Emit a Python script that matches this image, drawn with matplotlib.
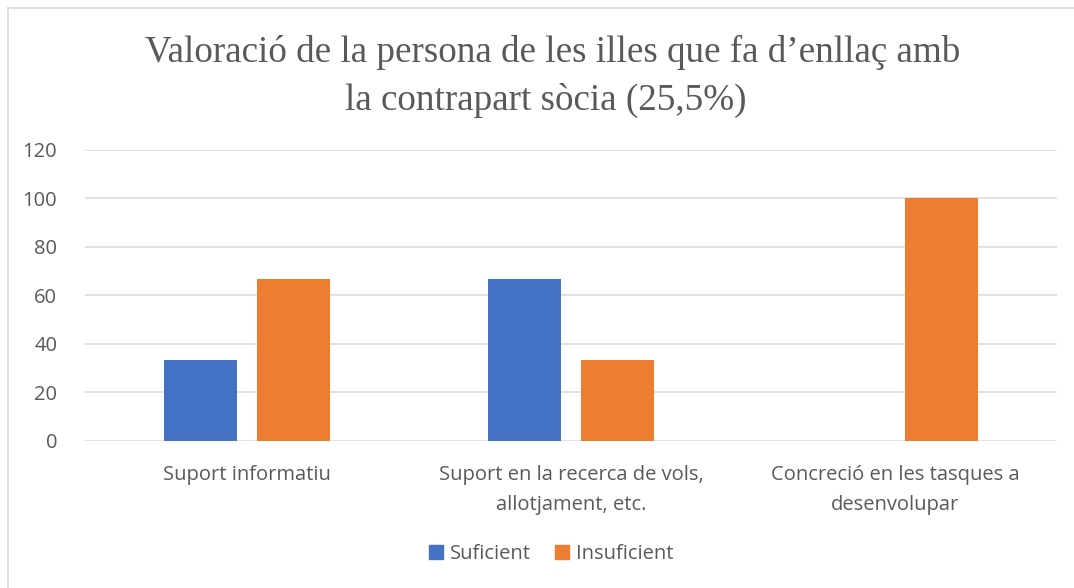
import matplotlib.pyplot as plt
import numpy as np
from matplotlib.lines import Line2D

categories = ['Suport informatiu',
              'Suport en la recerca de vols,\nallotjament, etc.',
              'Concreció en les tasques a\ndesenvolupar']
suficient = [33.33, 66.67, 0]
insuficient = [66.67, 33.33, 100]
yticks = [0, 20, 40, 60, 80, 100, 120]

blue = '#4472C4'
orange = '#ED7D31'
grey = '#595959'

fig = plt.figure(figsize=(10.74, 5.88), dpi=100)
ax = fig.add_axes([0.0791, 0.25, 0.905, 0.495])

x = np.arange(len(categories))
w = 0.225
ax.bar(x - 0.143, suficient, w, color=blue, label='Suficient', zorder=3)
ax.bar(x + 0.143, insuficient, w, color=orange, label='Insuficient', zorder=3)

ax.set_xlim(-0.5, 2.5)
ax.set_ylim(0, 120)
ax.set_yticks(yticks)
ax.yaxis.grid(True, color='#d9d9d9', linewidth=1.1)
ax.set_axisbelow(True)
for s in ax.spines.values():
    s.set_visible(False)
ax.tick_params(length=0, labelsize=14.5, colors=grey, pad=20)
ax.tick_params(axis='x', pad=17)
ax.set_xticks(x)
ax.set_xticklabels(categories, linespacing=1.7)
for lab in ax.get_xticklabels() + ax.get_yticklabels():
    lab.set_family('Open Sans')

fig.text(0.515, 0.91, 'Valoració de la persona de les illes que fa d\u2019enllaç amb',
         ha='center', va='center', fontsize=26.7, family='Liberation Serif', color=grey)
fig.text(0.508, 0.829, 'la contrapart sòcia (25,5%)',
         ha='center', va='center', fontsize=26.7, family='Liberation Serif', color=grey)

handles = [Line2D([], [], marker='s', linestyle='', color=blue, markersize=10),
           Line2D([], [], marker='s', linestyle='', color=orange, markersize=10)]
leg = fig.legend(handles, ['Suficient', 'Insuficient'], loc='center', bbox_to_anchor=(0.509, 0.058),
                 ncol=2, frameon=False, handletextpad=-0.1, columnspacing=0.75, handlelength=1.6,
                 prop={'family': 'Open Sans', 'size': 14.5})
for t in leg.get_texts():
    t.set_color(grey)

# chart border (only top and left visible in the crop)
fig.add_artist(Line2D([0.0075, 0.0075], [0, 0.987], transform=fig.transFigure, color='#d9d9d9', linewidth=1.2))
fig.add_artist(Line2D([0.0075, 1], [0.987, 0.987], transform=fig.transFigure, color='#d9d9d9', linewidth=1.2))

fig.savefig('out.png', dpi=100)
